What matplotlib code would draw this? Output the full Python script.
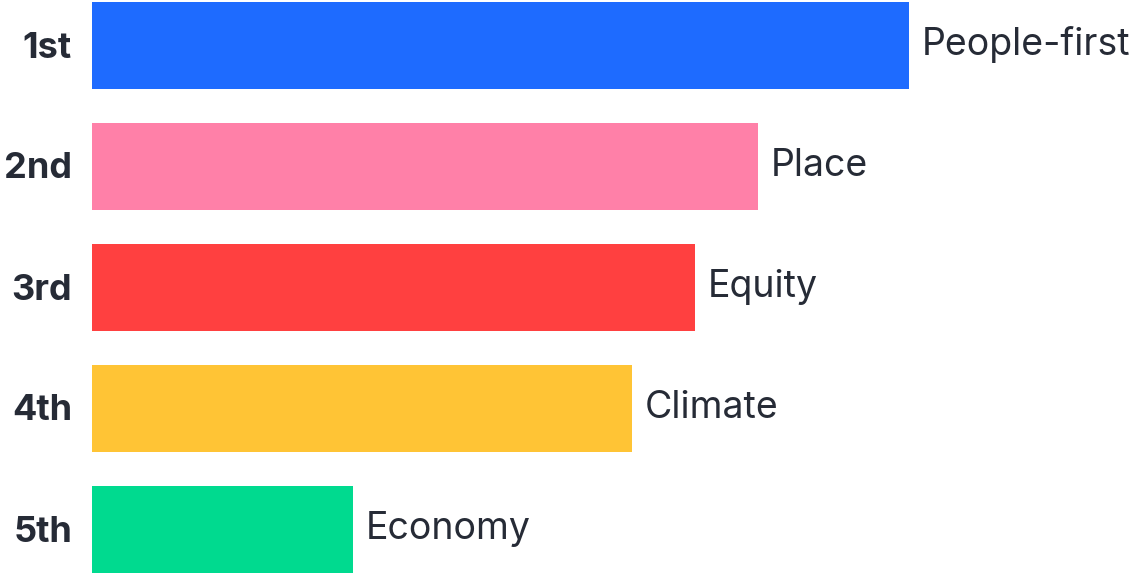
import matplotlib
matplotlib.use("Agg")
import matplotlib.pyplot as plt

ranks = ["1st", "2nd", "3rd", "4th", "5th"]
categories = ["People-first", "Place", "Equity", "Climate", "Economy"]
values = [817, 666, 603, 540, 261]
colors = ["#1E6BFF", "#FF80A8", "#FF4040", "#FFC435", "#00DA8F"]

W, H = 1138, 573
fig = plt.figure(figsize=(W / 100, H / 100), dpi=100)
ax = fig.add_axes([92 / W, 0, 1 - 92 / W, 1])
ypos = list(range(len(values)))
ax.barh(ypos, values, height=87 / 121, color=colors, left=0)
ax.set_xlim(0, W - 92)
ax.set_ylim((H - 45) / 121, -45 / 121)
ax.axis("off")

txt = "#262B36"
for y, v, c, r in zip(ypos, values, categories, ranks):
    ax.annotate(c, (v, y), xytext=(13, 0), textcoords="offset pixels",
                ha="left", va="center", fontsize=27, color=txt, family="Inter")
    ax.annotate(r, (0, y), xytext=(-20, -3), textcoords="offset pixels",
                ha="right", va="center", fontsize=26, color=txt, family="Inter",
                fontweight="bold", annotation_clip=False)

fig.savefig("out.png", dpi=100)
